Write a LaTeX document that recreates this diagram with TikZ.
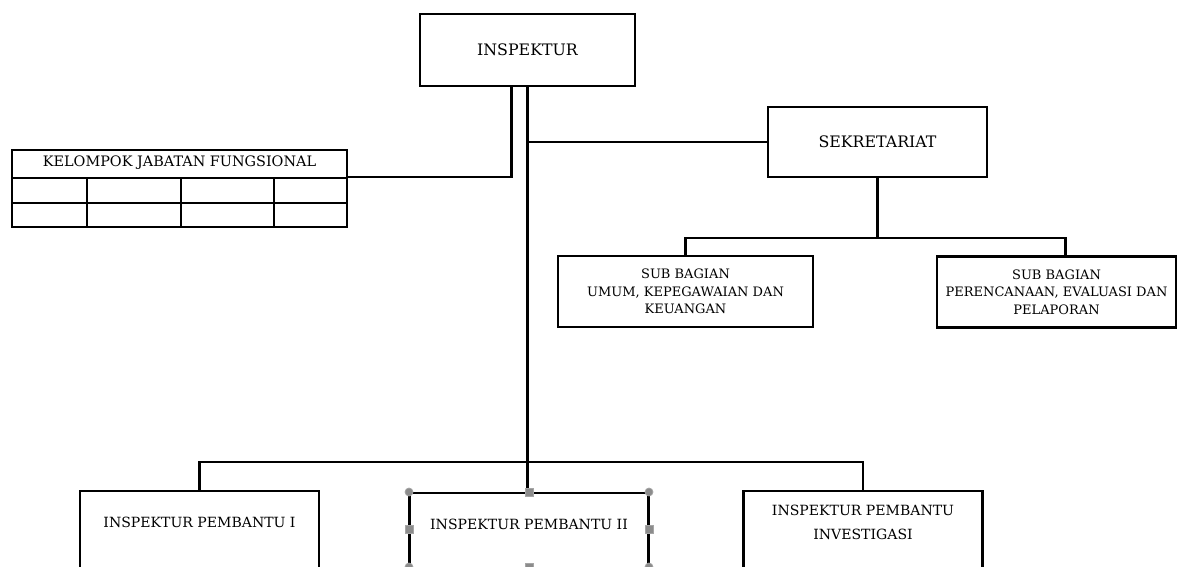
\documentclass[tikz,border=0pt]{standalone}
\usepackage{fontspec}
\setmainfont{DejaVu Serif}
\usetikzlibrary{positioning}

\begin{document}
\begin{tikzpicture}[
  x=0.02cm, y=-0.02cm,
  font=\fontsize{9}{11}\selectfont,
  box/.style={rectangle, draw, line width=1.3pt, fill=white,
              align=center, inner sep=2pt},
  subbox/.style={box, minimum width=5.1cm, minimum height=1.42cm,
                 font=\fontsize{7.4}{10}\selectfont},
  lowbox/.style={box, anchor=north, minimum width=4.78cm, minimum height=2.6cm},
  lowtext/.style={anchor=center, yshift=-0.64cm, align=center,
                  font=\fontsize{8}{13.6}\selectfont},
  line/.style={line width=1.3pt},
  handle/.style={fill=gray!90, draw=gray!70, line width=0.4pt},
]
\useasboundingbox (0,0) rectangle (1182,567);
\clip (0,0) rectangle (1182,567);

% Inspektur
\node[box, minimum width=4.3cm, minimum height=1.44cm] (insp) at (527.5,50)
  {INSPEKTUR};

% Sekretariat
\node[box, minimum width=4.38cm, minimum height=1.4cm] (sek) at (877.5,142)
  {SEKRETARIAT};

% Sub bagian
\node[subbox] (subumum) at (685.5,291.5)
  {SUB BAGIAN\\UMUM, KEPEGAWAIAN DAN\\KEUANGAN};
\node[subbox, minimum width=4.78cm] (subren) at (1056.5,292)
  {SUB BAGIAN\\PERENCANAAN, EVALUASI DAN\\PELAPORAN};

% Kelompok jabatan fungsional (table)
\node[box, minimum width=6.7cm, minimum height=1.54cm,
      label={[anchor=center, yshift=-0.28cm, font=\fontsize{8.2}{10}\selectfont]north:KELOMPOK JABATAN FUNGSIONAL}]
  (kjf) at (179.5,188.5) {};
\draw[line] (12,178) -- (347,178);
\draw[line] (12,203) -- (347,203);
\foreach \cx in {87,181,274}
  \draw[line] (\cx,178) -- (\cx,227);
\coordinate (kjfjoin) at (347,177);

% Inspektur pembantu
\node[lowbox, label={[lowtext]north:INSPEKTUR PEMBANTU I}] (ipb1) at (199.5,490) {};
\node[lowbox, label={[lowtext]north:INSPEKTUR PEMBANTU II}] (ipb2) at (529,492) {};
\node[lowbox, label={[lowtext]north:INSPEKTUR PEMBANTU\\INVESTIGASI}] (ipb3) at (863,490) {};

% Connectors
\draw[line] ([xshift=-0.32cm]insp.south) |- (kjfjoin);
\draw[line] (insp.south) -- (insp.south |- ipb2.north);
\draw[line] (insp.south |- sek.west) -- (sek.west);
\draw[line] (sek.south) -- ++(0,60) -| (subumum.north);
\draw[line] (sek.south) ++(0,60) -| ([xshift=0.18cm]subren.north);
\draw[line] (ipb1.north) |- (insp.south |- 0,462) -| (ipb3.north);

% Selection handles
\foreach \hx/\hy in {529/492, 409/529, 649/529, 529/567}
  \fill[handle] (\hx-4,\hy-4) rectangle (\hx+4,\hy+4);
\foreach \hx/\hy in {409/492, 649/492, 409/567, 649/567}
  \fill[handle] (\hx,\hy) circle (4);

\end{tikzpicture}
\end{document}
